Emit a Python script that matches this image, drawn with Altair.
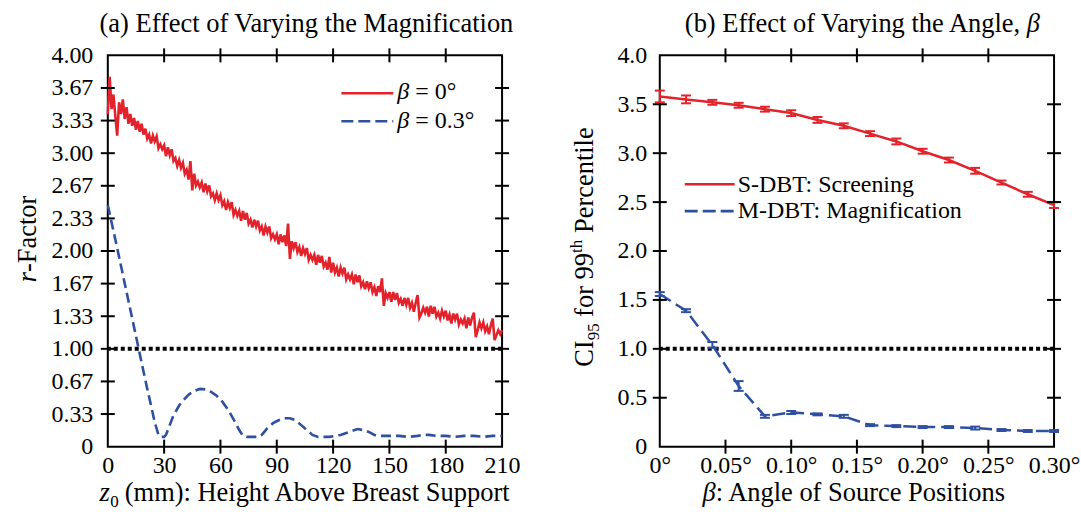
import altair as alt
import pandas as pd

# ---------------- data ----------------
# (a) r-factor vs height z0 (mm), beta = 0 deg (noisy red curve), 1 mm sampling
red_z = list(range(0, 211))
red_r = [
    3.40, 3.78, 3.45, 3.60, 3.38, 3.18, 3.52, 3.40, 3.55, 3.35,
    3.47, 3.30, 3.40, 3.28, 3.36, 3.24, 3.33, 3.22, 3.30, 3.19,
    3.25, 3.15, 3.19, 3.10, 3.18, 3.12, 3.17, 3.05, 3.09, 3.04,
    3.08, 2.97, 3.06, 2.98, 3.04, 2.92, 2.95, 2.87, 2.93, 2.85,
    2.90, 2.79, 2.83, 2.73, 2.92, 2.62, 2.79, 2.67, 2.71, 2.65,
    2.70, 2.60, 2.69, 2.61, 2.67, 2.56, 2.59, 2.52, 2.59, 2.52,
    2.57, 2.47, 2.51, 2.42, 2.50, 2.44, 2.50, 2.37, 2.42, 2.36,
    2.41, 2.31, 2.41, 2.32, 2.39, 2.28, 2.32, 2.24, 2.32, 2.25,
    2.31, 2.21, 2.25, 2.16, 2.25, 2.19, 2.25, 2.13, 2.17, 2.12,
    2.17, 2.07, 2.17, 2.09, 2.16, 2.05, 2.28, 1.92, 2.10, 2.03,
    2.09, 1.99, 2.04, 1.95, 2.03, 1.97, 2.03, 1.91, 1.96, 1.91,
    1.96, 1.86, 1.96, 1.88, 1.95, 1.84, 1.88, 1.81, 1.94, 1.78,
    1.88, 1.78, 1.83, 1.74, 1.83, 1.77, 1.83, 1.71, 1.76, 1.71,
    1.76, 1.66, 1.76, 1.68, 1.75, 1.64, 1.68, 1.61, 1.69, 1.62,
    1.68, 1.58, 1.63, 1.54, 1.64, 1.58, 1.72, 1.44, 1.57, 1.52,
    1.58, 1.48, 1.58, 1.50, 1.57, 1.47, 1.51, 1.44, 1.52, 1.45,
    1.52, 1.42, 1.47, 1.38, 1.47, 1.55, 1.32, 1.36, 1.42, 1.37,
    1.43, 1.33, 1.44, 1.36, 1.43, 1.33, 1.37, 1.31, 1.39, 1.33,
    1.39, 1.29, 1.35, 1.26, 1.36, 1.30, 1.36, 1.25, 1.30, 1.26,
    1.31, 1.21, 1.32, 1.24, 1.32, 1.37, 1.12, 1.19, 1.27, 1.21,
    1.27, 1.18, 1.23, 1.15, 1.24, 1.31, 1.09, 1.14, 1.19, 1.15,
    1.19,
]
# (a) beta = 0.3 deg (blue dashed curve)
blue_z = [0, 5, 10, 15, 20, 25, 27, 28, 30, 31,
          33, 35, 38, 40, 43, 46, 49, 52, 55, 58,
          61, 64, 67, 70, 72, 74, 77, 80, 82, 85,
          88, 91, 94, 97, 100, 103, 106, 109, 112, 115,
          118, 121, 124, 127, 130, 133, 136, 139, 142, 145,
          150, 155, 160, 165, 168, 171, 175, 180, 185, 190,
          195, 200, 205, 210]
blue_r = [2.47, 2.03, 1.58, 1.13, 0.68, 0.25, 0.12, 0.10, 0.10, 0.12,
          0.22, 0.32, 0.42, 0.47, 0.53, 0.57, 0.59, 0.585, 0.56, 0.52,
          0.46, 0.38, 0.28, 0.17, 0.11, 0.10, 0.10, 0.10, 0.12, 0.19,
          0.24, 0.27, 0.29, 0.29, 0.27, 0.22, 0.17, 0.12, 0.10, 0.10,
          0.10, 0.11, 0.12, 0.14, 0.16, 0.18, 0.17, 0.15, 0.12, 0.11,
          0.11, 0.11, 0.10, 0.11, 0.12, 0.12, 0.11, 0.11, 0.10, 0.11,
          0.11, 0.10, 0.11, 0.11]
a_xticks = [0, 30, 60, 90, 120, 150, 180, 210]
a_yticks = [0, 0.3333, 0.6667, 1.0, 1.3333, 1.6667, 2.0, 2.3333, 2.6667,
            3.0, 3.3333, 3.6667, 4.0]
a_legend = ["= 0°", "= 0.3°"]

# (b) CI95 for 99th percentile vs beta
beta = [0, 0.02, 0.04, 0.06, 0.08, 0.10, 0.12, 0.14, 0.16, 0.18,
        0.20, 0.22, 0.24, 0.26, 0.28, 0.30]
sdbt = [3.58, 3.55, 3.52, 3.49, 3.45, 3.41, 3.34, 3.28, 3.20, 3.12,
        3.02, 2.93, 2.82, 2.70, 2.58, 2.47]
sdbt_err = [0.06, 0.04, 0.025, 0.025, 0.025, 0.03, 0.03, 0.025, 0.025, 0.03,
            0.025, 0.025, 0.03, 0.02, 0.025, 0.03]
mdbt = [1.56, 1.39, 1.04, 0.62, 0.31, 0.35, 0.33, 0.31, 0.22, 0.21,
        0.20, 0.20, 0.19, 0.17, 0.16, 0.16]
mdbt_err = [0.02, 0.015, 0.03, 0.05, 0.015, 0.015, 0.01, 0.015, 0.01, 0.01,
            0.01, 0.01, 0.015, 0.01, 0.01, 0.01]
b_xticks = [0, 0.05, 0.10, 0.15, 0.20, 0.25, 0.30]
b_yticks = [0, 0.5, 1.0, 1.5, 2.0, 2.5, 3.0, 3.5, 4.0]
b_legend = ["S-DBT: Screening", "M-DBT: Magnification"]

threshold = [1.0]

# ---------------- style ----------------
SERIF = "Liberation Serif"
RED = "#e3232b"
BLUE = "#2f4f9f"
W, H = 395, 392
TFS = 26.5   # titles
LFS = 24     # tick labels / legend
SUB = 17     # sub/superscripts
XT_Y = 446   # x-title baseline (relative to plot top)


def txt(s, x, y, size=TFS, italic=False, align="left", angle=0):
    kw = dict(align=align, baseline="alphabetic", font=SERIF, fontSize=size,
              color="black", text=s)
    if italic:
        kw["fontStyle"] = "italic"
    if angle:
        kw["angle"] = angle
    return alt.Chart(alt.Data(values=[{}])).mark_text(**kw).encode(
        x=alt.value(x), y=alt.value(y))


def seg(x1, x2, y, color, dash=None, width=2.5):
    kw = dict(color=color, strokeWidth=width)
    if dash:
        kw["strokeDash"] = dash
    return alt.Chart(alt.Data(values=[{}])).mark_rule(**kw).encode(
        x=alt.value(x1), x2=alt.value(x2), y=alt.value(y))


def ax(values, expr, pad):
    return alt.Axis(values=values, labelExpr=expr, domain=False, ticks=False,
                    grid=False, labelFont=SERIF, labelFontSize=LFS,
                    labelColor="black", labelPadding=pad, labelFlush=False,
                    labelOverlap=False, labelBound=False, title=None)


def ticks(xvals, yvals, xs, ys, xax, yax):
    dfx = pd.DataFrame({"v": xvals[1:-1]})
    dfy = pd.DataFrame({"v": yvals[1:-1]})
    out = []
    for a, b in [(-7, 7), (H - 7, H + 7)]:
        out.append(alt.Chart(dfx).mark_rule(color="black", strokeWidth=2).encode(
            x=alt.X("v:Q", scale=xs, axis=xax), y=alt.value(a), y2=alt.value(b)))
    for a, b in [(-7, 7), (W - 7, W + 7)]:
        out.append(alt.Chart(dfy).mark_rule(color="black", strokeWidth=2).encode(
            y=alt.Y("v:Q", scale=ys, axis=yax), x=alt.value(a), x2=alt.value(b)))
    return out


# ---------------- panel (a) ----------------
xs_a = alt.Scale(domain=[0, 210], nice=False, zero=False)
ys_a = alt.Scale(domain=[0, 4], nice=False)
AXA_X = ax(a_xticks, "format(datum.value, 'd')", 7)
AXA_Y = ax(a_yticks, "datum.value == 0 ? '0' : format(datum.value, '.2f')", 15)

df_red = pd.DataFrame({"z": red_z, "r": red_r})
df_blue = pd.DataFrame({"z": blue_z, "r": blue_r})

thr_a = alt.Chart(pd.DataFrame({"y": threshold})).mark_rule(
    color="black", strokeWidth=4, strokeDash=[4, 3]).encode(
    y=alt.Y("y:Q", scale=ys_a, axis=AXA_Y))
blue_a = alt.Chart(df_blue).mark_line(color=BLUE, strokeWidth=2.6,
                                      strokeDash=[10, 5]).encode(
    x=alt.X("z:Q", scale=xs_a, axis=AXA_X), y=alt.Y("r:Q", scale=ys_a, axis=AXA_Y))
red_a = alt.Chart(df_red).mark_line(color=RED, strokeWidth=2.6).encode(
    x=alt.X("z:Q", scale=xs_a, axis=AXA_X), y=alt.Y("r:Q", scale=ys_a, axis=AXA_Y))

a_layers = [thr_a, blue_a, red_a] + ticks(a_xticks, a_yticks, xs_a, ys_a, AXA_X, AXA_Y) + [
    # legend
    seg(234, 286, 38, RED, width=2.5),
    seg(234, 286, 66, BLUE, dash=[12, 5], width=2.6),
    txt("β", 302, 44, size=LFS, italic=True, align="right"),
    txt(a_legend[0], 308, 44, size=LFS),
    txt("β", 302, 73, size=LFS, italic=True, align="right"),
    txt(a_legend[1], 308, 73, size=LFS),
    # title
    txt("(a) Effect of Varying the Magnification", 199, -23, align="center"),
    # x title
    txt("z", 2, XT_Y, italic=True, align="right"),
    txt("0", 2.5, XT_Y + 6, size=SUB),
    txt("(mm): Height Above Breast Support", 17, XT_Y),
    # y title
    txt("r", -72, 217, italic=True, align="right", angle=270),
    txt("-Factor", -72, 217, align="left", angle=270),
]
panel_a = alt.layer(*a_layers).properties(width=W, height=H)

# ---------------- panel (b) ----------------
xs_b = alt.Scale(domain=[0, 0.30], nice=False, zero=False)
ys_b = alt.Scale(domain=[0, 4], nice=False)
AXB_X = ax(b_xticks, "datum.value == 0 ? '0°' : format(datum.value, '.2f') + '°'", 7)
AXB_Y = ax(b_yticks, "datum.value == 0 ? '0' : format(datum.value, '.1f')", 13)

df_s = pd.DataFrame({"b": beta, "v": sdbt,
                     "lo": [v - e for v, e in zip(sdbt, sdbt_err)],
                     "hi": [v + e for v, e in zip(sdbt, sdbt_err)]})
df_m = pd.DataFrame({"b": beta, "v": mdbt,
                     "lo": [v - e for v, e in zip(mdbt, mdbt_err)],
                     "hi": [v + e for v, e in zip(mdbt, mdbt_err)]})

thr_b = alt.Chart(pd.DataFrame({"y": threshold})).mark_rule(
    color="black", strokeWidth=4, strokeDash=[4, 3]).encode(
    y=alt.Y("y:Q", scale=ys_b, axis=AXB_Y))


def series(df, color, dash):
    kw = dict(color=color, strokeWidth=2.5)
    if dash:
        kw["strokeDash"] = dash
    X = alt.X("b:Q", scale=xs_b, axis=AXB_X)
    line = alt.Chart(df).mark_line(**kw).encode(
        x=X, y=alt.Y("v:Q", scale=ys_b, axis=AXB_Y))
    bar = alt.Chart(df).mark_rule(color=color, strokeWidth=2).encode(
        x=X, y=alt.Y("lo:Q", scale=ys_b, axis=AXB_Y), y2="hi:Q")
    cap_lo = alt.Chart(df).mark_tick(color=color, orient="horizontal", size=10,
                                     thickness=2, opacity=1).encode(
        x=X, y=alt.Y("lo:Q", scale=ys_b, axis=AXB_Y))
    cap_hi = alt.Chart(df).mark_tick(color=color, orient="horizontal", size=10,
                                     thickness=2, opacity=1).encode(
        x=X, y=alt.Y("hi:Q", scale=ys_b, axis=AXB_Y))
    return [line, bar, cap_lo, cap_hi]


b_layers = [thr_b] + series(df_m, BLUE, [13, 6]) + series(df_s, RED, None) \
    + ticks(b_xticks, b_yticks, xs_b, ys_b, AXB_X, AXB_Y) + [
    seg(25, 75, 129, RED, width=2.5),
    seg(25, 75, 156, BLUE, dash=[13, 5], width=2.6),
    txt(b_legend[0], 78, 136.5, size=LFS),
    txt(b_legend[1], 78, 163, size=LFS),
    # title
    txt("(b) Effect of Varying the Angle,", 361, -23, align="right"),
    txt("β", 367.6, -23, italic=True),
    # x title
    txt("β", 56, XT_Y, italic=True, align="right"),
    txt(": Angle of Source Positions", 56, XT_Y),
    # y title (rotated)
    txt("CI", -67, 312, angle=270),
    txt("95", -61, 285.5, size=SUB, angle=270),
    txt("for 99", -67, 262, angle=270),
    txt("th", -78, 198, size=SUB, angle=270),
    txt("Percentile", -67, 178, angle=270),
]
panel_b = alt.layer(*b_layers).properties(width=W, height=H)

chart = alt.hconcat(panel_a, panel_b, spacing=158, bounds="flush").properties(
    padding={"left": 14, "top": 10, "right": 0, "bottom": 0},
    background="white",
).configure_view(stroke="black", strokeWidth=2)

chart.save("out.html", embed_options={"renderer": "svg", "actions": False})
